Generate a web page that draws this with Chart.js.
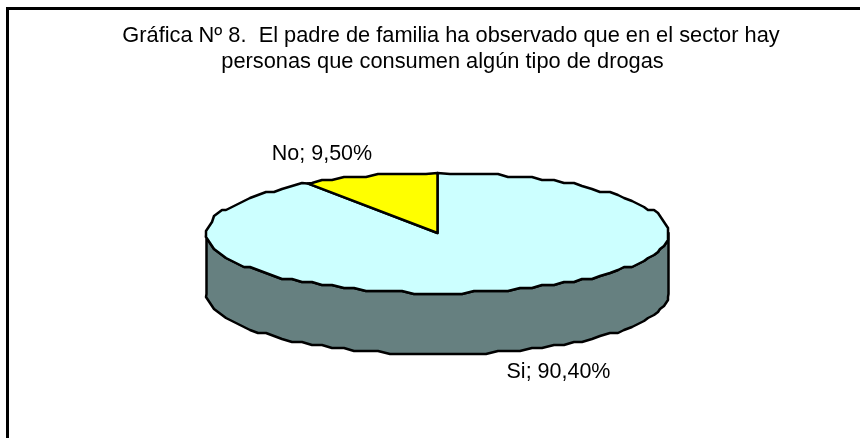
<!DOCTYPE html>
<html><head><meta charset="utf-8">
<style>html,body{margin:0;padding:0;background:#fff}canvas{display:block}</style>
<script src="https://cdn.jsdelivr.net/npm/chart.js@4/dist/chart.umd.min.js"></script>
</head><body><canvas id="c" width="860" height="438"></canvas>
<script>
const categories = ['Si', 'No'];
const percentages = [90.40, 9.50];
const sliceColors = ['#CCFFFF', '#FFFF00'];
const sideColors = ['#668080', '#808000'];
const titleLines = ['Gráfica Nº 8.  El padre de familia ha observado que en el sector hay',
                    'personas que consumen algún tipo de drogas'];
const fmt = v => v.toFixed(2).replace('.', ',') + '%';

const TITLE_FONT = '21.8px "Liberation Sans", Arial, sans-serif';
const LABEL_FONT = '21.5px "Liberation Sans", Arial, sans-serif';
const CX = 437.5, CY = 233, RX = 231, RY = 60, DEPTH = 61, GRID_X = 2, GRID_Y = 3;
const TAU = Math.PI * 2, STEP = TAU / 120;

function exactPoint(a, dy) { return [CX + RX * Math.cos(a), CY + dy + RY * Math.sin(a)]; }
function rimPoint(a, dy) {
  const p = exactPoint(a, dy);
  return [Math.round(p[0] / GRID_X) * GRID_X, Math.round(p[1] / GRID_Y) * GRID_Y];
}
function rimPath(ctx, a0, a1, dy, move) {
  const pts = [exactPoint(a0, dy)];
  for (let k = Math.ceil(a0 / STEP + 1e-6); k * STEP < a1 - 1e-6; k++) pts.push(rimPoint(k * STEP, dy));
  pts.push(exactPoint(a1, dy));
  pts.forEach((p, i) => (i === 0 && move) ? ctx.moveTo(p[0], p[1]) : ctx.lineTo(p[0], p[1]));
}

const pie3d = {
  id: 'pie3d',
  beforeDatasetsDraw(chart) {
    const ctx = chart.ctx, arcs = chart.getDatasetMeta(0).data;
    ctx.save();
    ctx.lineJoin = 'round';
    ctx.lineWidth = 2.5;
    ctx.strokeStyle = '#000';
    // side wall: the part of each slice on the front half
    arcs.forEach((arc, i) => {
      for (const shift of [0, TAU]) {
        const a0 = Math.max(arc.startAngle, shift), a1 = Math.min(arc.endAngle, shift + Math.PI);
        if (a1 <= a0) continue;
        ctx.beginPath();
        rimPath(ctx, a0, a1, 0, true);
        const e1 = exactPoint(a1, DEPTH), e0 = exactPoint(a0, DEPTH);
        ctx.lineTo(e1[0], e1[1]);
        for (let k = Math.floor(a1 / STEP - 1e-6); k * STEP > a0 + 1e-6; k--) {
          const p = rimPoint(k * STEP, DEPTH); ctx.lineTo(p[0], p[1]);
        }
        ctx.lineTo(e0[0], e0[1]);
        ctx.closePath();
        ctx.fillStyle = sideColors[i];
        ctx.fill();
        ctx.stroke();
      }
    });
    // top faces
    arcs.forEach((arc, i) => {
      ctx.beginPath();
      ctx.moveTo(CX, CY);
      rimPath(ctx, arc.startAngle, arc.endAngle, 0, false);
      ctx.closePath();
      ctx.fillStyle = sliceColors[i];
      ctx.fill();
      ctx.stroke();
    });
    ctx.restore();
    return false;
  },
  afterDraw(chart) {
    const ctx = chart.ctx;
    ctx.save();
    ctx.strokeStyle = '#000';
    ctx.lineWidth = 3;
    ctx.beginPath();
    ctx.moveTo(7.5, 438);
    ctx.lineTo(7.5, 8.5);
    ctx.lineTo(860, 8.5);
    ctx.stroke();
    ctx.fillStyle = '#000';
    ctx.textAlign = 'center';
    ctx.textBaseline = 'alphabetic';
    ctx.font = TITLE_FONT;
    ctx.fillText(titleLines[0], 451, 42);
    ctx.fillText(titleLines[1], 442.5, 68);
    ctx.font = LABEL_FONT;
    ctx.fillText(categories[1] + '; ' + fmt(percentages[1]), 322, 160);
    ctx.fillText(categories[0] + '; ' + fmt(percentages[0]), 558.5, 378);
    ctx.restore();
  }
};

new Chart(document.getElementById('c'), {
  type: 'pie',
  data: { labels: categories, datasets: [{ data: percentages, backgroundColor: sliceColors, borderWidth: 0 }] },
  options: {
    responsive: false,
    animation: false,
    plugins: { legend: { display: false }, tooltip: { enabled: false }, title: { display: false } }
  },
  plugins: [pie3d]
});
</script></body></html>
